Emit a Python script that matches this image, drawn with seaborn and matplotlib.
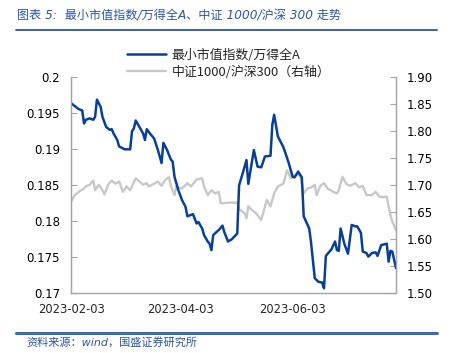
import numpy as np
import pandas as pd
import matplotlib
matplotlib.use("Agg")
import matplotlib.pyplot as plt
import matplotlib.dates as mdates
import seaborn as sns

# days since 2023-02-03 and values
small_days = [0, 4, 6, 7, 8, 10, 12, 13, 14, 16, 17, 19, 20, 21, 22, 23, 25, 26, 29, 32,
              33, 34, 35, 37, 39, 40, 41, 43, 45, 47, 49, 50, 52, 54, 55, 56, 58, 60, 62, 63,
              66, 68, 69, 71, 72, 74, 75, 76, 77, 80, 82, 83, 85, 87, 90, 91, 93, 95, 96, 99,
              101, 103, 105, 108, 109, 110, 112, 115, 117, 118, 120, 121, 123, 125, 126, 129, 130, 132, 134, 136,
              137, 138, 141, 143, 144, 145, 146, 148, 150, 152, 154, 155, 157, 158, 160, 161, 163, 165, 166, 168,
              171, 172, 173, 174, 176]
small_ratio = [0.1964, 0.1956, 0.1954, 0.1936, 0.1941, 0.1943, 0.1941, 0.1945, 0.1969, 0.1959,
               0.1945, 0.1931, 0.1929, 0.1927, 0.1928, 0.1922, 0.1913, 0.1904, 0.1900, 0.1900,
               0.1925, 0.1929, 0.1940, 0.1931, 0.1922, 0.1913, 0.1928, 0.1921, 0.1915, 0.1899,
               0.1881, 0.1909, 0.1899, 0.1886, 0.1883, 0.1862, 0.1844, 0.1830, 0.1820, 0.1807,
               0.1810, 0.1797, 0.1799, 0.1790, 0.1781, 0.1772, 0.1769, 0.1760, 0.1781, 0.1788,
               0.1794, 0.1785, 0.1772, 0.1775, 0.1783, 0.1850, 0.1867, 0.1885, 0.1852, 0.1899,
               0.1876, 0.1875, 0.1890, 0.1891, 0.1934, 0.1948, 0.1918, 0.1903, 0.1888, 0.1880,
               0.1862, 0.1861, 0.1869, 0.1861, 0.1807, 0.1790, 0.1770, 0.1721, 0.1716, 0.1715,
               0.1707, 0.1752, 0.1761, 0.1772, 0.1760, 0.1759, 0.1790, 0.1769, 0.1755, 0.1795,
               0.1793, 0.1793, 0.1784, 0.1758, 0.1756, 0.1751, 0.1756, 0.1757, 0.1752, 0.1767,
               0.1769, 0.1744, 0.1759, 0.1758, 0.1735]

csi_days = [0, 2, 5, 7, 8, 10, 12, 13, 15, 17, 18, 20, 22, 24, 26, 28, 30, 32, 35, 37,
            39, 41, 42, 45, 47, 49, 51, 53, 54, 56, 57, 60, 63, 65, 68, 71, 72, 74, 76, 78,
            80, 81, 83, 85, 90, 91, 94, 95, 96, 98, 100, 103, 105, 106, 108, 110, 112, 115, 117, 118,
            119, 122, 124, 126, 128, 130, 132, 133, 135, 137, 139, 142, 144, 145, 147, 149, 151, 154, 156, 158,
            160, 163, 165, 167, 169, 171, 172, 173, 174, 176]
csi_ratio = [1.670, 1.682, 1.690, 1.694, 1.698, 1.701, 1.709, 1.691, 1.701, 1.691,
             1.683, 1.701, 1.709, 1.703, 1.707, 1.688, 1.698, 1.691, 1.713, 1.707,
             1.701, 1.704, 1.698, 1.703, 1.707, 1.699, 1.710, 1.715, 1.699, 1.682,
             1.698, 1.694, 1.704, 1.698, 1.711, 1.713, 1.698, 1.682, 1.691, 1.685,
             1.688, 1.667, 1.667, 1.668, 1.668, 1.656, 1.648, 1.639, 1.661, 1.654,
             1.649, 1.636, 1.661, 1.673, 1.661, 1.685, 1.698, 1.703, 1.728, 1.721,
             1.713, 1.719, 1.719, 1.685, 1.694, 1.696, 1.701, 1.682, 1.699, 1.704,
             1.694, 1.688, 1.685, 1.691, 1.716, 1.703, 1.699, 1.704, 1.696, 1.699,
             1.682, 1.682, 1.688, 1.679, 1.678, 1.679, 1.661, 1.645, 1.633, 1.617]

start = pd.Timestamp("2023-02-03")
left_ticks = [0.17, 0.175, 0.18, 0.185, 0.19, 0.195, 0.2]
right_ticks = [1.50, 1.55, 1.60, 1.65, 1.70, 1.75, 1.80, 1.85, 1.90]
date_ticks = ["2023-02-03", "2023-04-03", "2023-06-03"]

label_small = "最小市值指数/万得全A"
label_csi = "中证1000/沪深300（右轴）"
title = "图表 5:  最小市值指数/万得全A、中证 1000/沪深 300 走势"
source = "资料来源：wind，国盛证券研究所"

df_small = pd.DataFrame({"date": start + pd.to_timedelta(small_days, unit="D"), "v": small_ratio})
df_csi = pd.DataFrame({"date": start + pd.to_timedelta(csi_days, unit="D"), "v": csi_ratio})

sns.set_style("white")
plt.rcParams["font.family"] = ["DejaVu Sans", "Noto Sans CJK SC"]

BLUE = "#0a3f96"
GRAY = "#c8c8c8"
TXT_BLUE = "#2a56a3"
SPINE = "#a6a6a6"

fig = plt.figure(figsize=(4.5, 3.53), dpi=100)
ax = fig.add_axes([0.158, 0.169, 0.722, 0.612])
ax2 = ax.twinx()

sns.lineplot(data=df_csi, x="date", y="v", ax=ax2, color=GRAY, linewidth=1.7, label=label_csi, legend=False)
sns.lineplot(data=df_small, x="date", y="v", ax=ax, color=BLUE, linewidth=1.8, label=label_small, legend=False)
ax.set_zorder(ax2.get_zorder() + 1)
ax.patch.set_visible(False)

ax.set_ylim(0.17, 0.2)
ax2.set_ylim(1.5, 1.9)
ax.set_yticks(left_ticks)
ax.set_yticklabels([f"{t:g}" for t in left_ticks])
ax2.set_yticks(right_ticks)
ax2.set_yticklabels([f"{t:.2f}" for t in right_ticks])
ax.set_xlim(start, start + pd.Timedelta(days=176))
ax.set_xticks(pd.to_datetime(date_ticks))
ax.xaxis.set_major_formatter(mdates.DateFormatter("%Y-%m-%d"))
ax.set_xlabel("")
ax.set_ylabel("")
ax2.set_ylabel("")

for a in (ax, ax2):
    a.spines["top"].set_visible(False)
    for s in ("left", "right", "bottom"):
        a.spines[s].set_color(SPINE)
        a.spines[s].set_linewidth(0.9)
ax.tick_params(axis="y", direction="in", length=4, color=SPINE, labelsize=8.5, pad=8, labelcolor="black")
ax2.tick_params(axis="y", direction="in", length=4, color=SPINE, labelsize=8.5, pad=8, labelcolor="black")
ax.tick_params(axis="x", direction="in", length=5, color=SPINE, labelsize=8.3, pad=7)

h1, l1 = ax.get_legend_handles_labels()
h2, l2 = ax2.get_legend_handles_labels()
leg = fig.legend(h1 + h2, l1 + l2, loc="upper center", bbox_to_anchor=(0.508, 0.895),
                 frameon=False, handlelength=3.0, handletextpad=0.45,
                 labelspacing=0.3, prop={"family": ["Noto Sans CJK SC"], "size": 9.3})

fig.text(0.038, 0.955, title, color=TXT_BLUE, fontsize=8.7, style="italic",
         family=["DejaVu Sans", "Noto Sans CJK SC"], va="center")
fig.add_artist(plt.Line2D([0.035, 0.97], [0.915, 0.915], color=TXT_BLUE, linewidth=1.3))
fig.add_artist(plt.Line2D([0.035, 0.97], [0.057, 0.057], color="#3b6cb7", linewidth=2.2))
fig.text(0.058, 0.03, source, color=TXT_BLUE, fontsize=8, style="italic",
         family=["DejaVu Sans", "Noto Sans CJK SC"], va="center")

fig.savefig("out.png", dpi=100)
